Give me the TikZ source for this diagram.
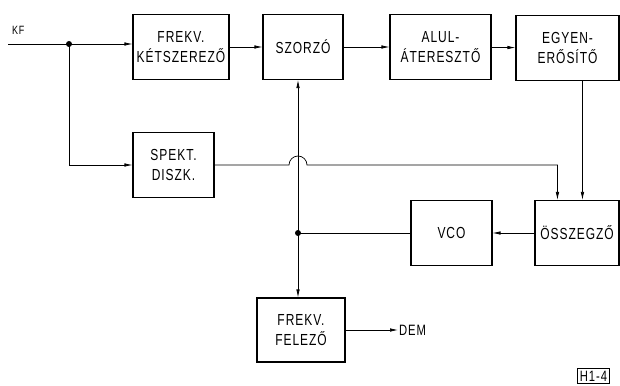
\documentclass[tikz,border=0pt]{standalone}
\usepackage{fontspec}
\newfontfamily\rajzbetu{Liberation Sans}[FakeStretch=0.75,LetterSpace=6]
\usetikzlibrary{arrows.meta, calc}

\begin{document}
\begin{tikzpicture}[x=1pt, y=-1pt,
  blokk/.style={draw, line width=1.1pt, inner sep=0pt, align=center,
    font=\rajzbetu\fontsize{16}{20}\selectfont, minimum height=65pt},
  jel/.style={line width=0.7pt, -{Latex[length=8pt,width=3.5pt]}},
  vonal/.style={line width=0.7pt},
  felirat/.style={font=\rajzbetu\fontsize{15}{18}\selectfont, inner sep=1pt}]
  \useasboundingbox (0,0) rectangle (620,385);

  % Blocks
  \node[blokk, minimum width=96pt] (ketsz) at (181,47) {FREKV.\\KÉTSZEREZŐ};
  \node[blokk, minimum width=80pt] (szorzo) at (303,47) {SZORZÓ};
  \node[blokk, minimum width=101pt] (alul) at (440.5,47) {ALUL-\\ÁTERESZTŐ};
  \node[blokk, minimum width=103pt] (egyen) at (567.5,48) {EGYEN-\\ERŐSÍTŐ};
  \node[blokk, minimum width=81pt] (spekt) at (173.5,165) {SPEKT.\\DISZK.};
  \node[blokk, minimum width=81pt] (vco) at (451.5,233) {VCO};
  \node[blokk, minimum width=84pt] (ossz) at (577,233) {ÖSSZEGZŐ};
  \node[blokk, minimum width=88pt, minimum height=64pt] (felezo) at (301,330) {FREKV.\\FELEZŐ};

  % Labels
  \node[felirat, font=\rajzbetu\fontsize{12}{14}\selectfont, anchor=west] (kf) at (11,30) {KF};
  \node[felirat, anchor=west] (dem) at (398,330) {DEM};
  \node[felirat, draw, line width=1.2pt, inner xsep=2.5pt, inner ysep=2pt] (abra) at (593.5,376) {H1-4};

  % Branch points
  \coordinate (be) at (8,44);
  \coordinate (elag) at (69,44);
  \coordinate (csomo) at (298,233);
  \coordinate (leg) at ($(egyen.south west)+(67,0)$);

  % Signal path
  \draw[jel] (be) -- (be -| ketsz.west);
  \draw[jel] (ketsz) -- (szorzo);
  \draw[jel] (szorzo) -- (alul);
  \draw[jel] (alul) -- (egyen);
  \draw[jel] (elag) |- (spekt.west);
  \draw[jel] (spekt.east) -- ($(csomo |- spekt.east)+(-9,0)$)
    arc[start angle=180, end angle=360, radius=9]
    -| ($(ossz.north west)+(23,0)$);
  \draw[jel] (leg) -- (leg |- ossz.north);
  \draw[jel] (ossz) -- (vco);
  \draw[vonal] (vco.west) -- (csomo);
  \draw[jel] (csomo) -- (csomo |- szorzo.south);
  \draw[jel] (csomo) -- (csomo |- felezo.north);
  \draw[jel] (felezo) -- (dem);

  \fill (elag) circle (3);
  \fill (csomo) circle (3);
\end{tikzpicture}
\end{document}
